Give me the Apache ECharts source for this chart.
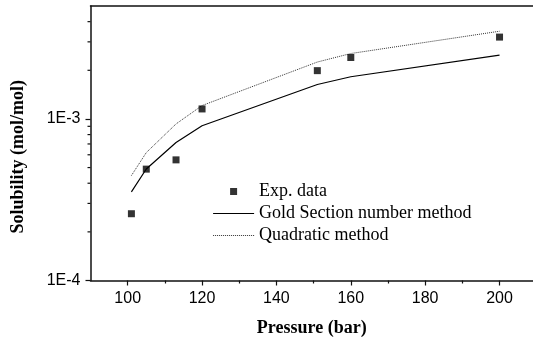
<!DOCTYPE html>
<html>
<head>
<meta charset="utf-8">
<script src="https://cdn.jsdelivr.net/npm/echarts@6/dist/echarts.min.js"></script>
<style>
  html, body { margin: 0; padding: 0; background: #fff; }
  #chart { width: 533px; height: 343px; }
</style>
</head>
<body>
<div id="chart"></div>
<script>
// pressure (bar)
const pressure = [101, 105, 113, 120, 151, 160, 200];
// solubility (mol/mol)
const expData = [2.59e-4, 4.89e-4, 5.58e-4, 1.153e-3, 1.99e-3, 2.40e-3, 3.21e-3];
const goldSection = [3.54e-4, 4.9e-4, 7.15e-4, 9.08e-4, 1.634e-3, 1.824e-3, 2.48e-3];
const quadratic = [4.46e-4, 6.19e-4, 9.31e-4, 1.21e-3, 2.25e-3, 2.54e-3, 3.49e-3];

const xMajorTicks = [100, 120, 140, 160, 180, 200];
const xMinorTicks = [110, 130, 150, 170, 190];
const yMinorTicks = [2e-4, 3e-4, 4e-4, 5e-4, 6e-4, 7e-4, 8e-4, 9e-4, 2e-3, 3e-3, 4e-3];

const X_MIN = 90, X_MAX = 209, Y_MIN = 1e-4, Y_MAX = 5e-3;

const serif = '"Times New Roman", "Liberation Serif", serif';
const sans = 'Arial, "Liberation Sans", sans-serif';

function pairs(ys) {
  return pressure.map((p, i) => [p, ys[i]]);
}

// legend entries for the lines: hide the dot ECharts puts on the line icon
const noDot = { color: 'rgba(0,0,0,0)', borderWidth: 0, opacity: 0 };

var chart = echarts.init(document.getElementById('chart'));
var option = {
  animation: false,
  grid: {
    left: 90.5,
    right: 0,
    top: 6,
    bottom: 62.5
  },
  legend: {
    data: [
      { name: 'Exp. data', icon: 'path://M0,0L10,0L10,10L0,10Z' },
      { name: 'Gold Section number method', itemStyle: noDot, lineStyle: { width: 1 } },
      { name: 'Quadratic method', itemStyle: noDot, lineStyle: { width: 1 } }
    ],
    orient: 'vertical',
    left: 212.6,
    top: 182.5,
    padding: 0,
    itemWidth: 41,
    itemHeight: 7,
    itemGap: 4,
    symbolKeepAspect: true,
    textStyle: { fontFamily: serif, fontSize: 18, color: '#000' }
  },
  xAxis: [
    {
      type: 'value',
      min: X_MIN,
      max: X_MAX,
      interval: 10,
      name: 'Pressure (bar)',
      nameLocation: 'middle',
      nameGap: 39,
      nameTextStyle: { fontFamily: serif, fontSize: 18, fontWeight: 'bold', color: '#000' },
      axisLine: { lineStyle: { color: '#111', width: 1.5 } },
      axisTick: { customValues: xMajorTicks, length: 5, lineStyle: { color: '#111', width: 1.2 } },
      axisLabel: { customValues: xMajorTicks, fontFamily: sans, fontSize: 16, color: '#000', margin: 10 },
      splitLine: { show: false }
    },
    {
      // short ticks between the labelled ones
      type: 'value',
      min: X_MIN,
      max: X_MAX,
      interval: 10,
      position: 'bottom',
      axisLine: { show: false },
      axisTick: { customValues: xMinorTicks, length: 3, lineStyle: { color: '#111', width: 1.2 } },
      axisLabel: { show: false },
      splitLine: { show: false }
    },
    {
      // top frame line
      type: 'value',
      min: X_MIN,
      max: X_MAX,
      position: 'top',
      axisLine: { show: true, lineStyle: { color: '#111', width: 1.5 } },
      axisTick: { show: false },
      axisLabel: { show: false },
      splitLine: { show: false }
    }
  ],
  yAxis: {
    type: 'log',
    logBase: 10,
    min: Y_MIN,
    max: Y_MAX,
    axisLine: { show: true, lineStyle: { color: '#111', width: 1.5 } },
    axisTick: { show: true, length: 5, lineStyle: { color: '#111', width: 1.2 } },
    axisLabel: {
      fontFamily: sans,
      fontSize: 16,
      color: '#000',
      margin: 10,
      showMaxLabel: false,
      formatter: function (v) {
        const e = Math.log10(v);
        if (Math.abs(e - Math.round(e)) > 1e-6) return '';
        return '1E' + Math.round(e);
      }
    },
    splitLine: { show: false }
  },
  graphic: [
    {
      type: 'text',
      x: 18.5,
      y: 156.7,
      rotation: Math.PI / 2,
      style: {
        text: 'Solubility (mol/mol)',
        font: 'bold 18px ' + serif,
        fill: '#000',
        align: 'center',
        verticalAlign: 'middle'
      }
    }
  ],
  series: [
    {
      name: 'Exp. data',
      type: 'scatter',
      symbol: 'rect',
      symbolSize: 7,
      itemStyle: { color: '#000' },
      data: pairs(expData),
      z: 5
    },
    {
      name: 'Gold Section number method',
      type: 'line',
      symbol: 'none',
      lineStyle: { color: '#000', width: 1.2 },
      itemStyle: { color: '#000' },
      data: pairs(goldSection)
    },
    {
      name: 'Quadratic method',
      type: 'line',
      symbol: 'none',
      lineStyle: { color: '#333', width: 1, type: [1, 1] },
      itemStyle: { color: '#333' },
      data: pairs(quadratic)
    },
    {
      // log minor ticks on the left axis
      type: 'custom',
      silent: true,
      clip: false,
      data: yMinorTicks.map(v => [X_MIN, v]),
      renderItem: function (params, api) {
        const p = api.coord([api.value(0), api.value(1)]);
        return {
          type: 'line',
          shape: { x1: p[0] - 3, y1: p[1], x2: p[0], y2: p[1] },
          style: { stroke: '#111', lineWidth: 1.2 }
        };
      }
    }
  ]
};
chart.setOption(option);
</script>
</body>
</html>
